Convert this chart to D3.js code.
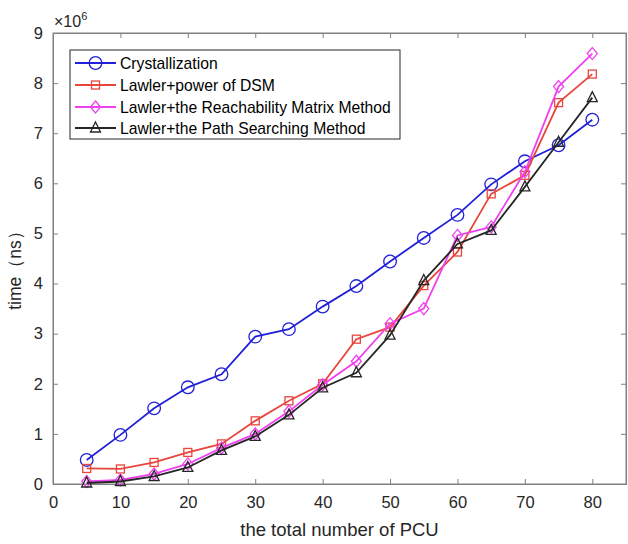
<!DOCTYPE html>
<html><head><meta charset="utf-8">
<script src="https://cdn.jsdelivr.net/npm/d3@7"></script>
<style>body{margin:0;background:#fff;} svg{display:block;font-family:"Liberation Sans",Arial,sans-serif;}</style>
</head><body>
<svg id="chart" width="628" height="544"></svg>
<script>
const xValues = [5,10,15,20,25,30,35,40,45,50,55,60,65,70,75,80];
const crystallization = [0.48,0.98,1.51,1.93,2.19,2.94,3.09,3.54,3.95,4.44,4.91,5.37,5.98,6.44,6.76,7.27];
const lawlerDSM = [0.31,0.30,0.43,0.63,0.80,1.26,1.66,2.00,2.89,3.13,3.96,4.63,5.79,6.16,7.61,8.18];
const lawlerReach = [0.05,0.08,0.20,0.40,0.72,1.00,1.45,1.98,2.45,3.20,3.50,4.96,5.13,6.23,7.93,8.59];
const lawlerPath = [0.02,0.05,0.15,0.33,0.67,0.95,1.38,1.92,2.22,2.97,4.06,4.79,5.06,5.93,6.82,7.71];
const seriesNames = ["Crystallization","Lawler+power of DSM","Lawler+the Reachability Matrix Method","Lawler+the Path Searching Method"];
const xTicks = [0,10,20,30,40,50,60,70,80];
const yTicks = [0,1,2,3,4,5,6,7,8,9];
const xLabel = "the total number of PCU";
const yLabel = "time（ns）";

const colors = ["#2020d8","#e8463c","#f040f0","#262626"];
const markers = ["circle","square","diamond","triangle"];
const seriesData = [crystallization, lawlerDSM, lawlerReach, lawlerPath];

const svg = d3.select("#chart");
const L = 53, R = 626, T = 33, B = 484;
const x = d3.scaleLinear().domain([0,85]).range([L,R]);
const y = d3.scaleLinear().domain([0,9]).range([B,T]);
const axisColor = "#262626";
const fs = 16.5;

const g = svg.append("g");
g.append("rect").attr("x",L).attr("y",T).attr("width",R-L).attr("height",B-T)
  .attr("fill","none").attr("stroke","#808080").attr("stroke-width",1);

const xAx = g.append("g").attr("transform",`translate(0,${B})`)
  .call(d3.axisBottom(x).tickValues(xTicks).tickSize(-5).tickPadding(12).tickFormat(d3.format("d")));
const xAxTop = g.append("g").attr("transform",`translate(0,${T})`)
  .call(d3.axisTop(x).tickValues(xTicks).tickSize(-5).tickFormat(""));
const yAx = g.append("g").attr("transform",`translate(${L},0)`)
  .call(d3.axisLeft(y).tickValues(yTicks).tickSize(-5).tickPadding(10).tickFormat(d3.format("d")));
const yAxR = g.append("g").attr("transform",`translate(${R},0)`)
  .call(d3.axisRight(y).tickValues(yTicks).tickSize(-5).tickFormat(""));
[xAx,xAxTop,yAx,yAxR].forEach(a=>{
  a.select(".domain").attr("stroke","#808080");
  a.selectAll(".tick line").attr("stroke","#808080");
  a.selectAll("text").attr("font-size",fs).attr("fill",axisColor).attr("font-family","Liberation Sans, Arial, sans-serif");
});

const ex = svg.append("text").attr("x",54).attr("y",27).attr("fill",axisColor).attr("font-size",16);
ex.append("tspan").text("×10");
ex.append("tspan").attr("dy",-7).attr("font-size",11).text("6");

svg.append("text").attr("x",(L+R)/2).attr("y",536).attr("text-anchor","middle")
  .attr("font-size",18.5).attr("fill",axisColor).text(xLabel);
svg.append("text").attr("transform",`translate(21,266) rotate(-90)`).attr("text-anchor","middle")
  .attr("font-size",17.5).attr("fill",axisColor).text(yLabel);

function drawMarker(sel, type, color){
  if(type==="circle"){
    sel.append("circle").attr("r",6.3);
  } else if(type==="square"){
    sel.append("rect").attr("x",-4).attr("y",-4).attr("width",8).attr("height",8);
  } else if(type==="diamond"){
    sel.append("path").attr("d","M0,-6L5,0L0,6L-5,0Z");
  } else {
    sel.append("path").attr("d","M0,-6L5,4L-5,4Z");
  }
  sel.selectChildren().attr("fill","none").attr("stroke",color).attr("stroke-width",1.3);
}

const line = d3.line().x((d,i)=>x(xValues[i])).y(d=>y(d));
const plot = svg.append("g");
seriesData.forEach((vals,k)=>{
  plot.append("path").datum(vals).attr("d",line).attr("fill","none")
    .attr("stroke",colors[k]).attr("stroke-width",1.8);
  vals.forEach((v,i)=>{
    const m = plot.append("g").attr("transform",`translate(${x(xValues[i])},${y(v)})`);
    drawMarker(m, markers[k], colors[k]);
  });
});

const lg = svg.append("g");
lg.append("rect").attr("x",70).attr("y",50).attr("width",330).attr("height",89)
  .attr("fill","#fff").attr("stroke","#262626").attr("stroke-width",1);
const rowY = [63,85,107,128];
seriesNames.forEach((name,k)=>{
  lg.append("line").attr("x1",75).attr("x2",116).attr("y1",rowY[k]).attr("y2",rowY[k])
    .attr("stroke",colors[k]).attr("stroke-width",1.8);
  const m = lg.append("g").attr("transform",`translate(95.5,${rowY[k]})`);
  drawMarker(m, markers[k], colors[k]);
  lg.append("text").attr("x",120).attr("y",rowY[k]+5.5).attr("font-size",15.7)
    .attr("fill","#000").text(name);
});
</script>
</body></html>
